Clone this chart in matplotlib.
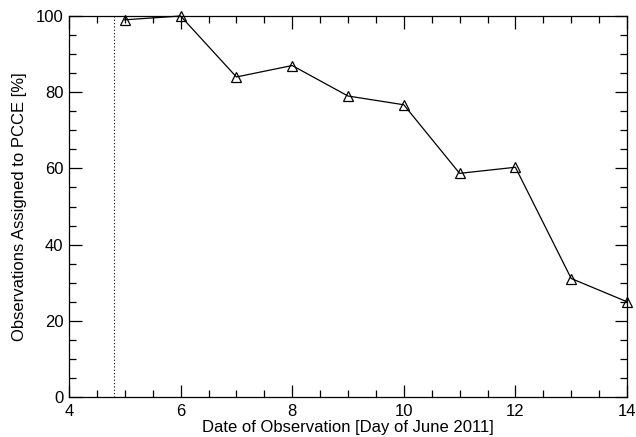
import numpy as np
import matplotlib.pyplot as plt
from matplotlib.ticker import MultipleLocator

plt.rcParams['font.family'] = ['Liberation Sans', 'DejaVu Sans']

# 观测日期与比例
days = [5, 6, 7, 8, 9, 10, 11, 12, 13, 14]
pcce = [99.0, 100.0, 84.0, 87.0, 79.0, 76.7, 58.7, 60.3, 31.1, 25.0]
marker_day = 4.8

fig = plt.figure(figsize=(6.36, 4.37), dpi=100)
ax = fig.add_axes([69 / 636, 1 - 397 / 437, (627 - 69) / 636, (397 - 16) / 437])

ax.plot(days, pcce, color='black', lw=0.9, marker='^', markersize=7.5,
        markerfacecolor='none', markeredgecolor='black', markeredgewidth=0.9,
        clip_on=False)
ax.axvline(marker_day, color='black', lw=0.8, linestyle=(0, (1, 2)))

ax.set_xlim(4, 14)
ax.set_ylim(0, 100)
ax.xaxis.set_major_locator(MultipleLocator(2))
ax.xaxis.set_minor_locator(MultipleLocator(0.5))
ax.yaxis.set_major_locator(MultipleLocator(20))
ax.yaxis.set_minor_locator(MultipleLocator(5))
ax.tick_params(which='both', direction='in', top=True, right=True, labelsize=12, width=0.9)
ax.tick_params(which='major', length=9)
ax.tick_params(which='minor', length=5)
ax.tick_params(axis='x', which='major', pad=5)
ax.tick_params(axis='y', which='major', pad=4)
for s in ax.spines.values():
    s.set_linewidth(0.9)

ax.set_xlabel('Date of Observation [Day of June 2011]', fontsize=12, labelpad=1)
ax.set_ylabel('Observations Assigned to PCCE [%]', fontsize=12, labelpad=6)

fig.savefig('out.png', dpi=100)
